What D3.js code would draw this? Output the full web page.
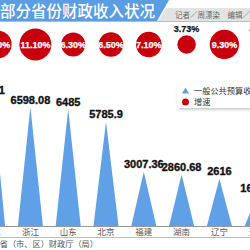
<!DOCTYPE html>
<html>
<head>
<meta charset="utf-8">
<script src="https://cdn.jsdelivr.net/npm/d3@7"></script>
<style>
  body { margin: 0; background: #fff; }
  svg { display: block; }
</style>
</head>
<body>
<div id="chart"></div>
<script>
// provinces, revenue (亿元) and growth (%)
const provinces = ["广东", "浙江", "山东", "北京", "福建", "湖南", "辽宁", "天津"];
const revenue = [7151, 6598.08, 6485, 5785.9, 3007.36, 2860.68, 2616, 1690.5];
const growth = [8.5, 11.10, 6.30, 6.50, 7.10, 3.73, 9.30, 4.2];
const legendLabels = ["一般公共预算收入", "增速"];

var width = 250, height = 250;
var svg = d3.select("#chart").append("svg").attr("width", width).attr("height", height);

var defs = svg.append("defs");
var f = defs.append("filter").attr("id", "shadow").attr("x", "-20%").attr("y", "-30%").attr("width", "140%").attr("height", "160%");
f.append("feDropShadow").attr("dx", 1).attr("dy", 1.5).attr("stdDeviation", 1.5).attr("flood-color", "#000").attr("flood-opacity", 0.25);

// title band
svg.append("path").attr("d", "M0,0 L169,0 L157,21 L0,21 Z").attr("fill", "#5b9de3");
svg.append("path").attr("d", "M166,8 L250,8 L250,21 L158,21 Z").attr("fill", "#e3e3e3");
svg.append("line").attr("x1", 0).attr("x2", width).attr("y1", 21.5).attr("y2", 21.5).attr("stroke", "#9cc3ee").attr("stroke-width", 1);
svg.append("text").attr("x", 0).attr("y", 17).attr("fill", "#fff")
  .style("font-family", "'Noto Sans CJK SC'").style("font-size", "15.5px").style("font-weight", "500")
  .text("部分省份财政收入状况");
svg.append("text").attr("x", 175).attr("y", 17.5).attr("fill", "#666")
  .style("font-family", "'Noto Sans CJK SC'").style("font-size", "7.5px")
  .text("记者／周漂染　编辑／周");

var x = d3.scalePoint().domain(provinces).range([-7.4, 257.2]);
var y = d3.scaleLinear().domain([0, 6598.08]).range([226, 107]);
var r = d3.scaleSqrt().domain([0, 11.1]).range([0, 16]);
var halfW = 12.5;
var bubbleY = 44.5, bubbleDx = 5;

// triangles
svg.selectAll(".tri").data(provinces).enter().append("path")
  .attr("fill", "#5fa0e6")
  .attr("d", function (d, i) {
    var cx = x(d);
    return "M" + (cx - halfW) + "," + y(0) + "L" + cx + "," + y(revenue[i]) + "L" + (cx + halfW) + "," + y(0) + "Z";
  });

// value labels
svg.selectAll(".val").data(provinces).enter().append("text")
  .attr("x", function (d) { return x(d); })
  .attr("y", function (d, i) { return y(revenue[i]) - 3.5; })
  .attr("text-anchor", "middle").attr("fill", "#111")
  .attr("stroke", "#111").attr("stroke-width", 0.35)
  .style("font-family", "'Liberation Sans Narrow', 'Liberation Sans'").style("font-weight", "bold").style("font-size", "11px")
  .text(function (d, i) { return String(revenue[i]); });

// axis lines
svg.append("line").attr("x1", 0).attr("x2", width).attr("y1", 226.5).attr("y2", 226.5).attr("stroke", "#999").attr("stroke-width", 1);
svg.append("line").attr("x1", 0).attr("x2", width).attr("y1", 237.5).attr("y2", 237.5).attr("stroke", "#bbb").attr("stroke-width", 1);

svg.selectAll(".cat").data(provinces).enter().append("text")
  .attr("x", function (d) { return x(d); }).attr("y", 235)
  .attr("text-anchor", "middle").attr("fill", "#555")
  .style("font-family", "'Noto Sans CJK SC'").style("font-size", "8.5px")
  .text(function (d) { return d; });

svg.append("text").attr("x", 98).attr("y", 246.5).attr("text-anchor", "end").attr("fill", "#555")
  .style("font-family", "'Noto Sans CJK SC'").style("font-size", "8.2px")
  .text("来源：各省（市、区）财政厅（局）");

// growth bubbles
var bub = svg.selectAll(".bub").data(provinces).enter().append("g")
  .attr("transform", function (d) { return "translate(" + (x(d) + bubbleDx) + "," + bubbleY + ")"; });
bub.append("circle").attr("r", function (d, i) { return r(growth[i]); }).attr("fill", "#c8000e");
bub.append("text")
  .attr("y", function (d, i) { return growth[i] < 5 ? -r(growth[i]) - 3 : 3.2; })
  .attr("text-anchor", "middle")
  .attr("fill", function (d, i) { return growth[i] < 5 ? "#111" : "#fff"; })
  .attr("stroke", function (d, i) { return growth[i] < 5 ? "#111" : "#fff"; }).attr("stroke-width", 0.25)
  .style("font-family", "'Liberation Sans Narrow', 'Liberation Sans'").style("font-weight", "bold").style("font-size", "9px")
  .text(function (d, i) { return d3.format(".2f")(growth[i]) + "%"; });

// legend
var lg = svg.append("g").attr("transform", "translate(177,82)");
lg.append("rect").attr("width", 100).attr("height", 26).attr("rx", 3).attr("fill", "#fff").attr("filter", "url(#shadow)");
lg.append("path").attr("d", "M5,11.5 L8.5,5.5 L12,11.5 Z").attr("fill", "#5fa0e6");
lg.append("circle").attr("cx", 8.5).attr("cy", 20).attr("r", 3.5).attr("fill", "#c8000e");
lg.selectAll(".lt").data(legendLabels).enter().append("text")
  .attr("x", 17).attr("y", function (d, i) { return 11.5 + i * 11.5; })
  .attr("fill", "#333")
  .style("font-family", "'Noto Sans CJK SC'").style("font-size", "8.2px")
  .text(function (d) { return d; });
</script>
</body>
</html>
